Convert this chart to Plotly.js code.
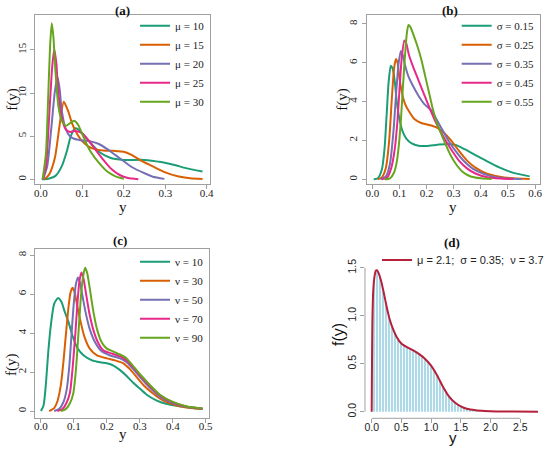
<!DOCTYPE html>
<html>
<head>
<meta charset="utf-8">
<script src="https://cdn.plot.ly/plotly-3.0.1.min.js"></script>
<style>html,body{margin:0;padding:0;background:#fff;}#chart{width:550px;height:449px;}</style>
</head>
<body>
<div id="chart"></div>
<script>
// ---------- Panel (a): varying mu ----------
var aNames = ["μ = 10", "μ = 15", "μ = 20", "μ = 25", "μ = 30"];
var aX10 = [0.002,0.02,0.035,0.05,0.062,0.072,0.082,0.09,0.102,0.118,0.14,0.167,0.2,0.25,0.29,0.32,0.35,0.39];
var aY10 = [0,0.1,0.4,1.5,3.2,5.0,5.9,5.8,5.2,4.3,3.2,2.5,2.25,2.25,2.0,1.7,1.3,0.9];
var aX15 = [0.008,0.02,0.034,0.045,0.055,0.065,0.075,0.088,0.1,0.115,0.13,0.15,0.175,0.2,0.22,0.24,0.27,0.3,0.33,0.36,0.39];
var aY15 = [0,0.6,2.6,6.3,9.0,8.0,6.5,5.2,4.4,3.8,3.5,3.35,3.3,3.2,2.8,2.2,1.5,0.8,0.35,0.13,0.04];
var aX20 = [0.005,0.015,0.025,0.033,0.0395,0.045,0.05,0.06,0.07,0.08,0.1,0.12,0.14,0.16,0.18,0.2,0.22,0.25,0.27,0.298];
var aY20 = [0,1.5,6,10,11.9,10.5,8,5.8,5.0,4.7,4.5,4.4,4.1,3.5,2.8,2.1,1.4,0.7,0.3,0.05];
var aX25 = [0.004,0.012,0.02,0.027,0.032,0.037,0.042,0.05,0.06,0.07,0.08,0.09,0.1,0.12,0.135,0.155,0.17,0.19,0.21,0.235];
var aY25 = [0,1.5,7.5,13,15.1,13.5,10,7.2,5.8,5.5,5.6,5.55,5.3,4.2,3.2,2.0,1.2,0.5,0.15,0.02];
var aX30 = [0.004,0.012,0.017,0.022,0.026,0.03,0.035,0.042,0.05,0.06,0.07,0.08,0.09,0.1,0.11,0.12,0.14,0.16,0.18,0.2];
var aY30 = [0,3,9,15.5,18.1,16.5,12.5,8.5,6.8,6.2,6.5,6.8,6.3,5.2,4.1,3.2,1.9,0.9,0.35,0.07];
var aXticks = [0,0.1,0.2,0.3,0.4];
var aYticks = [0,5,10,15];

// ---------- Panel (b): varying sigma ----------
var bNames = ["σ = 0.15", "σ = 0.25", "σ = 0.35", "σ = 0.45", "σ = 0.55"];
var bX15 = [0.005,0.02,0.035,0.045,0.053,0.06,0.068,0.075,0.083,0.09,0.1,0.112,0.125,0.145,0.17,0.2,0.24,0.28,0.31,0.34,0.38,0.42,0.47,0.52,0.58];
var bY15 = [0,0.05,0.5,1.6,3.4,5.0,5.85,5.7,5.0,4.0,3.1,2.45,2.1,1.85,1.73,1.72,1.78,1.82,1.75,1.55,1.25,0.95,0.6,0.33,0.15];
var bX25 = [0.02,0.035,0.05,0.062,0.072,0.08,0.087,0.093,0.1,0.11,0.12,0.135,0.155,0.18,0.21,0.24,0.26,0.29,0.32,0.35,0.38,0.42,0.47,0.52,0.58];
var bY25 = [0,0.1,0.6,2.0,4.2,5.7,6.2,6.0,5.2,4.4,3.9,3.5,3.1,2.9,2.8,2.65,2.45,2.0,1.45,0.95,0.6,0.3,0.13,0.05,0.01];
var bX35 = [0.03,0.05,0.065,0.078,0.088,0.097,0.105,0.112,0.12,0.133,0.15,0.17,0.19,0.22,0.24,0.26,0.28,0.31,0.34,0.37,0.41,0.45,0.5,0.55];
var bY35 = [0,0.15,0.8,2.5,4.5,6.0,6.6,6.4,5.9,5.3,4.8,4.3,3.9,3.5,3.0,2.5,2.0,1.4,0.9,0.55,0.28,0.12,0.04,0.01];
var bX45 = [0.035,0.055,0.07,0.082,0.092,0.1,0.108,0.118,0.125,0.135,0.15,0.17,0.19,0.21,0.23,0.25,0.27,0.29,0.32,0.35,0.38,0.42,0.47,0.52];
var bY45 = [0,0.1,0.6,1.5,2.9,4.6,6.2,7.15,7.0,6.4,5.8,5.1,4.4,3.7,3.05,2.5,2.0,1.55,0.95,0.55,0.3,0.12,0.04,0.01];
var bX55 = [0.045,0.065,0.08,0.09,0.098,0.105,0.112,0.12,0.127,0.133,0.14,0.15,0.165,0.18,0.195,0.21,0.225,0.24,0.255,0.27,0.29,0.31,0.33,0.36,0.4,0.44];
var bY55 = [0,0.05,0.35,0.9,1.8,3.0,4.6,6.3,7.5,7.95,7.85,7.5,6.9,6.2,5.3,4.4,3.5,2.8,2.3,1.8,1.2,0.75,0.42,0.16,0.05,0.01];
var bXticks = [0,0.1,0.2,0.3,0.4,0.5,0.6];
var bYticks = [0,2,4,6,8];

// ---------- Panel (c): varying nu ----------
var cNames = ["ν = 10", "ν = 30", "ν = 50", "ν = 70", "ν = 90"];
var cX10 = [0.0,0.008,0.015,0.022,0.03,0.04,0.052,0.062,0.072,0.083,0.095,0.11,0.13,0.155,0.18,0.2,0.22,0.24,0.26,0.28,0.3,0.32,0.35,0.38,0.42,0.46,0.49];
var cY10 = [0,0.3,1.4,3.0,4.4,5.5,5.8,5.6,5.1,4.6,3.9,3.25,2.85,2.6,2.5,2.45,2.33,2.1,1.8,1.45,1.15,0.85,0.55,0.37,0.24,0.16,0.12];
var cX30 = [0.025,0.04,0.05,0.06,0.068,0.076,0.084,0.09,0.096,0.102,0.11,0.12,0.132,0.148,0.17,0.2,0.225,0.25,0.27,0.29,0.31,0.34,0.37,0.41,0.45,0.49];
var cY30 = [0,0.15,0.5,1.3,2.5,4.0,5.4,6.1,6.32,6.1,5.4,4.6,3.8,3.2,2.85,2.7,2.6,2.45,2.15,1.75,1.35,0.9,0.55,0.3,0.17,0.1];
var cX50 = [0.04,0.055,0.068,0.078,0.086,0.093,0.1,0.106,0.112,0.118,0.125,0.135,0.148,0.165,0.185,0.21,0.24,0.26,0.28,0.3,0.33,0.36,0.4,0.44,0.49];
var cY50 = [0,0.1,0.45,1.1,2.3,4.0,5.6,6.5,6.85,6.6,6.0,5.1,4.2,3.5,3.05,2.85,2.7,2.5,2.15,1.75,1.2,0.75,0.4,0.22,0.12];
var cX70 = [0.05,0.065,0.077,0.088,0.096,0.104,0.111,0.117,0.123,0.129,0.137,0.147,0.16,0.175,0.19,0.215,0.24,0.26,0.28,0.3,0.33,0.36,0.4,0.44,0.49];
var cY70 = [0,0.1,0.4,0.95,2.2,3.9,5.6,6.7,7.1,6.8,6.0,5.0,4.1,3.45,3.1,2.95,2.8,2.6,2.25,1.85,1.3,0.82,0.45,0.24,0.13];
var cX90 = [0.06,0.075,0.088,0.098,0.106,0.113,0.12,0.127,0.134,0.14,0.148,0.158,0.17,0.185,0.2,0.22,0.24,0.26,0.28,0.3,0.33,0.36,0.4,0.44,0.49];
var cY90 = [0,0.1,0.4,0.9,2.1,3.8,5.6,6.8,7.35,7.1,6.3,5.2,4.2,3.5,3.2,3.05,2.9,2.7,2.3,1.9,1.35,0.85,0.47,0.25,0.13];
var cXticks = [0,0.1,0.2,0.3,0.4,0.5];
var cYticks = [0,2,4,6,8];

// ---------- Panel (d): fitted density ----------
var dName = "μ = 2.1;  σ = 0.35;  ν = 3.7";
var dX = [0.0,0.005,0.012,0.025,0.045,0.07,0.09,0.12,0.16,0.2,0.25,0.3,0.36,0.42,0.5,0.6,0.7,0.8,0.9,1.0,1.1,1.2,1.3,1.4,1.5,1.6,1.75,1.9,2.1,2.4,2.8];
var dY = [0,0.5,0.95,1.25,1.4,1.47,1.475,1.44,1.36,1.25,1.1,0.97,0.86,0.78,0.71,0.67,0.64,0.6,0.55,0.48,0.38,0.26,0.16,0.095,0.055,0.03,0.015,0.008,0.003,0.001,0];
var dXticks = [0,0.5,1.0,1.5,2.0,2.5];
var dYticks = [0,0.5,1.0,1.5];

var dark2 = ["#1B9E77","#D95F02","#7570B3","#E7298A","#66A61E"];
var SERIF = "'Liberation Serif', 'Times New Roman', serif";
var SANS = "'Liberation Sans', Arial, sans-serif";

function line(x, y, name, color, xa, ya, leg) {
  return {type:"scatter", mode:"lines", x:x, y:y, name:name, xaxis:xa, yaxis:ya, legend:leg,
          line:{color:color, width:2, shape:"spline", smoothing:0.6}, hoverinfo:"x+y"};
}

var traces = [];
[[aX10,aY10],[aX15,aY15],[aX20,aY20],[aX25,aY25],[aX30,aY30]].forEach(function(s,i){
  traces.push(line(s[0], s[1], aNames[i], dark2[i], "x", "y", "legend"));
});
[[bX15,bY15],[bX25,bY25],[bX35,bY35],[bX45,bY45],[bX55,bY55]].forEach(function(s,i){
  traces.push(line(s[0], s[1], bNames[i], dark2[i], "x2", "y2", "legend2"));
});
[[cX10,cY10],[cX30,cY30],[cX50,cY50],[cX70,cY70],[cX90,cY90]].forEach(function(s,i){
  traces.push(line(s[0], s[1], cNames[i], dark2[i], "x3", "y3", "legend3"));
});
// histogram-like fill under the density (no legend entry)
traces.push({type:"scatter", mode:"none", x:dX, y:dY, name:"histogram", xaxis:"x4", yaxis:"y4",
  showlegend:false, fill:"tozeroy", fillcolor:"#ADD8E6",
  fillpattern:{shape:"|", bgcolor:"#ADD8E6", fgcolor:"#ffffff", size:3, solidity:0.3, fgopacity:1},
  line:{shape:"spline", smoothing:0.6}, hoverinfo:"skip"});
traces.push(line(dX, dY, dName, "#B5203A", "x4", "y4", "legend4"));

function axis(anchor, domain, range, tickvals, fmt, family, size, angle, boxed, standoff) {
  return {anchor:anchor, domain:domain, range:range, tickvals:tickvals,
    ticktext:tickvals.map(function(v){ return fmt ? v.toFixed(fmt) : String(v); }),
    showline:boxed, mirror:boxed, linecolor:"#a0a0a0", linewidth:1,
    ticks:"outside", ticklen:4, tickcolor:"#a0a0a0", tickwidth:1,
    tickfont:{family:family, size:size, color:"#222"}, tickangle:angle,
    ticklabelstandoff:standoff,
    showgrid:false, zeroline:false, fixedrange:true};
}

function leg(x, y, family) {
  return {x:x, y:y, xanchor:"left", yanchor:"top", bgcolor:"rgba(0,0,0,0)", borderwidth:0,
          font:{family:family, size:11, color:"#222"}};
}

function ann(text, x, y, family, size, angle) {
  return {text:text, x:x, y:y, xref:"paper", yref:"paper", showarrow:false,
          xanchor:"center", yanchor:"middle", textangle:angle||0,
          font:{family:family, size:size, color:"#111"}};
}

var layout = {
  width:550, height:449, margin:{l:0,r:0,t:0,b:0},
  paper_bgcolor:"#ffffff", plot_bgcolor:"rgba(0,0,0,0)",
  xaxis:  axis("y",  [0.0636,0.3818], [-0.0145,0.408], aXticks, 1, SERIF, 11, 0, true, -6),
  yaxis:  axis("x",  [0.5895,0.9666], [-0.58,19.06], aYticks, 0, SERIF, 11, -90, true, 0),
  xaxis2: axis("y2", [0.6667,0.9818], [-0.0209,0.618], bXticks, 1, SERIF, 11, 0, true, -6),
  yaxis2: axis("x2", [0.5895,0.9666], [-0.258,8.46], bYticks, 0, SERIF, 11, -90, true, 0),
  xaxis3: axis("y3", [0.0636,0.3806], [-0.0182,0.511], cXticks, 1, SERIF, 11, 0, true, -6),
  yaxis3: axis("x3", [0.0697,0.4454], [-0.342,8.31], cYticks, 0, SERIF, 11, -90, true, 0),
  xaxis4: axis("y4", [0.6636,0.9836], [-0.113,2.85], dXticks, 1, SANS, 10.5, 0, false, -5),
  yaxis4: axis("x4", [0.0684,0.412], [-0.069,1.54], dYticks, 1, SANS, 10.5, -90, false, 0),
  legend:  leg(0.2455, 0.975, SERIF),
  legend2: leg(0.8303, 0.975, SERIF),
  legend3: leg(0.2455, 0.4495, SERIF),
  legend4: leg(0.6855, 0.4532, SANS),
  showlegend:true,
  annotations:[
    ann("<b>(a)</b>", 0.2227, 0.9777, SERIF, 13),
    ann("<b>(b)</b>", 0.8182, 0.9777, SERIF, 13),
    ann("<b>(c)</b>", 0.2182, 0.4633, SERIF, 13),
    ann("<b>(d)</b>", 0.8213, 0.461, SERIF, 13),
    ann("f(y)", 0.0213, 0.7795, SERIF, 15, -90),
    ann("y", 0.2231, 0.538, SERIF, 15),
    ann("f(y)", 0.6213, 0.7795, SERIF, 15, -90),
    ann("y", 0.8236, 0.538, SERIF, 15),
    ann("f(y)", 0.02, 0.187, SERIF, 15, -90),
    ann("y", 0.2236, 0.034, SERIF, 15),
    ann("f(y)", 0.6164, 0.2539, SANS, 16, -90),
    ann("y", 0.8236, 0.026, SANS, 15)
  ],
  shapes:[
    {type:"line", xref:"x4", yref:"y4 domain", x0:dXticks[0], x1:dXticks[dXticks.length-1], y0:0, y1:0,
     line:{color:"#a0a0a0", width:1}},
    {type:"line", xref:"x4 domain", yref:"y4", x0:0, x1:0, y0:dYticks[0], y1:dYticks[dYticks.length-1],
     line:{color:"#a0a0a0", width:1}}
  ]
};

Plotly.newPlot("chart", traces, layout, {staticPlot:true, displayModeBar:false});
</script>
</body>
</html>
